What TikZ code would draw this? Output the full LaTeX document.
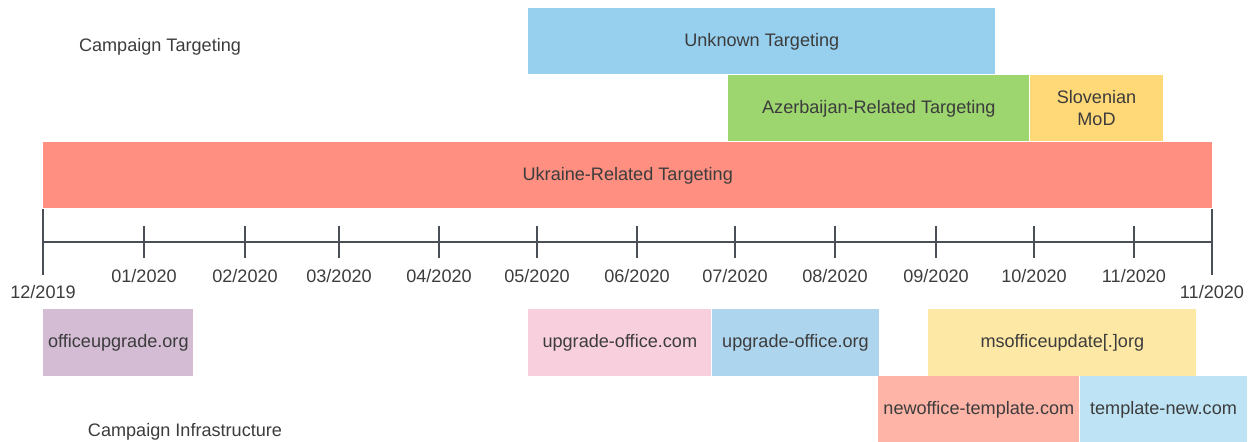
\documentclass[tikz,border=0pt]{standalone}
\usepackage{fontspec}
\setmainfont{Liberation Sans}
\usepackage{xcolor}
\usepackage{tikz}
\usetikzlibrary{positioning}
\definecolor{TLText}{HTML}{3C3C3C}
\definecolor{TLAxis}{HTML}{4A4F57}
\definecolor{TLBlue}{HTML}{97D0EF}
\definecolor{TLGreen}{HTML}{9DD56F}
\definecolor{TLYellow}{HTML}{FFD877}
\definecolor{TLSalmon}{HTML}{FF8F80}
\definecolor{TLPurple}{HTML}{D3BCD4}
\definecolor{TLPink}{HTML}{F8D0DD}
\definecolor{TLSky}{HTML}{AED5EE}
\definecolor{TLCream}{HTML}{FEE8A6}
\definecolor{TLPeach}{HTML}{FFB4A8}
\definecolor{TLIce}{HTML}{BDE3F5}
\tikzset{
  tlbar/.style={
    rectangle,
    draw=none,
    inner sep=0pt,
    align=center,
    text=TLText,
    font=\fontsize{10.3}{12.4}\selectfont,
    minimum height=1.32cm
  },
  tlhost/.style={tlbar,minimum height=1.34cm},
  tlaxis/.style={draw=TLAxis,line width=1.1pt},
  tlmonth/.style={font=\fontsize{10.3}{12.4}\selectfont,text=TLText,inner sep=0pt},
  tllabel/.style={font=\fontsize{10.3}{12.4}\selectfont,text=TLText,inner sep=0pt},
}

\begin{document}
\begin{tikzpicture}[x=0.02cm,y=-0.02cm]
  \useasboundingbox (0,0) rectangle (1251,442);

  % targeting periods
  \node[tllabel] (targeting) at (160,47) {Campaign Targeting};
  \node[tlbar,fill=TLBlue,anchor=north west,minimum width=9.34cm] (unknown)
    at (528,8) {Unknown Targeting};
  \node[tlbar,fill=TLGreen,anchor=north west,minimum width=6.02cm] (azerbaijan)
    at (728,75) {Azerbaijan-Related Targeting};
  \node[tlbar,fill=TLYellow,right=0pt of azerbaijan,minimum width=2.66cm] (slovenia)
    {Slovenian\\MoD};
  \node[tlbar,fill=TLSalmon,anchor=north west,minimum width=23.38cm] (ukraine)
    at (43,142) {Ukraine-Related Targeting};

  % time axis
  \coordinate (start) at (43,242);
  \coordinate (end) at (1212,242);
  \draw[tlaxis] (start) -- (end);
  \draw[tlaxis] ([yshift=0.66cm]start) -- ([yshift=-0.66cm]start);
  \draw[tlaxis] ([yshift=0.66cm]end) -- ([yshift=-0.66cm]end);
  \foreach \x/\m [count=\i] in {144/01,245/02,339/03,439/04,537/05,637/06,
                                735/07,835/08,936/09,1034/10,1134/11} {
    \coordinate (tick\i) at (\x,242);
    \draw[tlaxis] ([yshift=0.32cm]tick\i) -- ([yshift=-0.32cm]tick\i);
    \node[tlmonth] (month\i) at (\x,276) {\m/2020};
  }
  \node[tlmonth] (first) at (43,292) {12/2019};
  \node[tlmonth] (last) at (1212,292) {11/2020};

  % infrastructure
  \node[tlhost,fill=TLPurple,anchor=north west,minimum width=3.0cm] (officeupgrade)
    at (43,309) {officeupgrade.org};
  \node[tlhost,fill=TLPink,anchor=north west,minimum width=3.66cm] (upgradecom)
    at (528,309) {upgrade-office.com};
  \node[tlhost,fill=TLSky,right=0pt of upgradecom,minimum width=3.34cm] (upgradeorg)
    {upgrade-office.org};
  \node[tlhost,fill=TLCream,anchor=north west,minimum width=5.36cm] (msoffice)
    at (928,309) {msofficeupdate[.]org};
  \node[tlbar,fill=TLPeach,anchor=north west,minimum width=4.02cm] (newoffice)
    at (878,376) {newoffice-template.com};
  \node[tlbar,fill=TLIce,right=0pt of newoffice,minimum width=3.34cm] (templatenew)
    {template-new.com};
  \node[tllabel] (infra) at (185,432) {Campaign Infrastructure};
\end{tikzpicture}
\end{document}
